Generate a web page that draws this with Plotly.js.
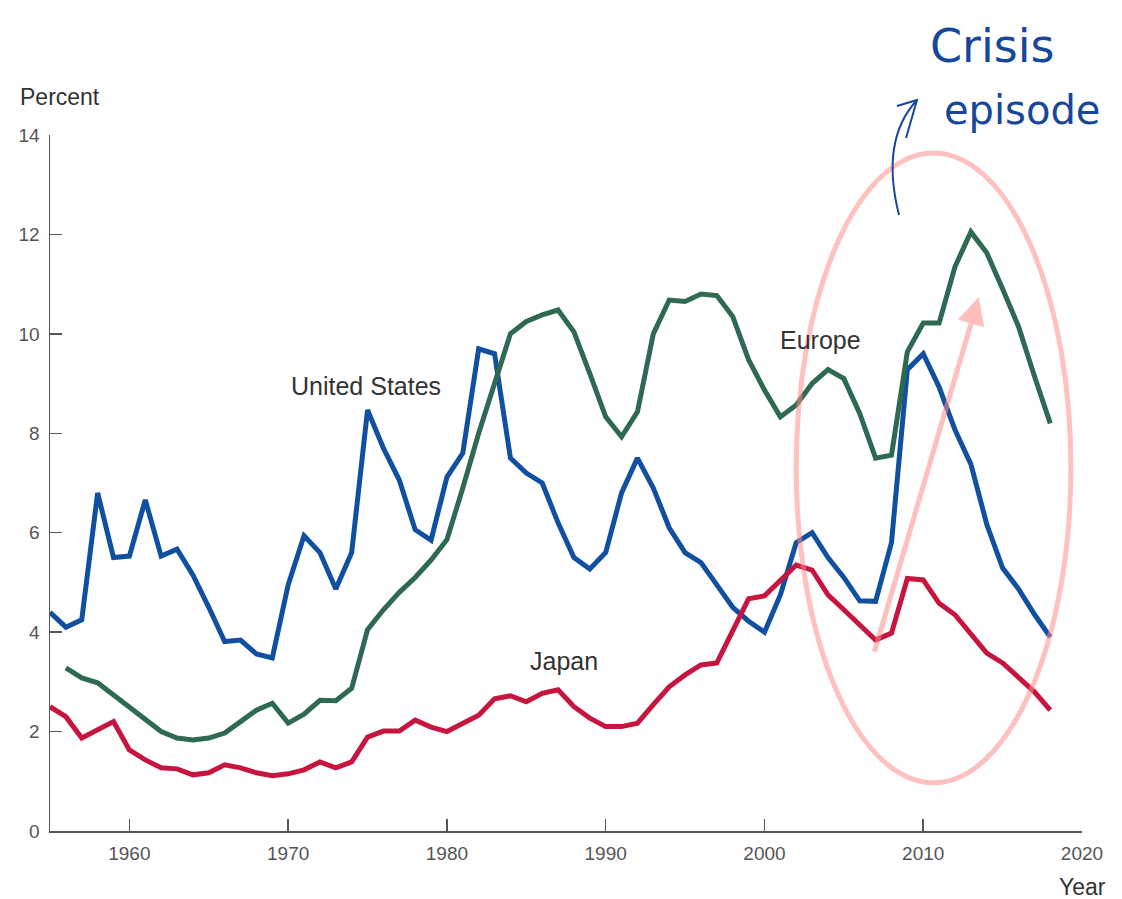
<!DOCTYPE html>
<html>
<head>
<meta charset="utf-8">
<script src="https://cdn.plot.ly/plotly-3.0.1.min.js"></script>
<style>html,body{margin:0;padding:0;background:#fff;}#chart{width:1122px;height:899px;}</style>
</head>
<body>
<div id="chart"></div>
<script>
// ---- data ----
const usStart = 1955;
const usValues = [4.4,4.1,4.25,6.8,5.5,5.53,6.66,5.53,5.67,5.15,4.5,3.81,3.84,3.56,3.48,
  4.95,5.94,5.6,4.87,5.6,8.47,7.7,7.06,6.06,5.85,7.12,7.6,9.7,9.6,7.5,7.2,7.0,6.2,5.5,5.27,
  5.6,6.8,7.5,6.9,6.1,5.6,5.4,4.95,4.5,4.22,4.0,4.75,5.8,6.0,5.5,5.1,4.63,4.62,5.8,9.28,
  9.6,8.93,8.07,7.38,6.17,5.29,4.87,4.36,3.9];
const euStart = 1956;
const euValues = [3.28,3.08,2.98,2.74,2.5,2.23,2.0,1.87,1.83,1.87,1.97,2.2,2.43,2.57,
  2.17,2.35,2.63,2.62,2.87,4.05,4.45,4.8,5.1,5.45,5.86,6.9,8.0,9.0,10.0,10.25,10.38,10.48,
  10.04,9.2,8.33,7.93,8.43,10.0,10.68,10.65,10.8,10.77,10.35,9.48,8.87,8.33,8.57,9.0,9.28,
  9.1,8.4,7.5,7.56,9.64,10.22,10.22,11.35,12.05,11.63,10.9,10.15,9.15,8.2];
const jpStart = 1955;
const jpValues = [2.5,2.3,1.87,2.03,2.2,1.63,1.43,1.27,1.25,1.13,1.17,1.33,1.27,1.17,1.11,
  1.15,1.23,1.39,1.27,1.39,1.89,2.01,2.01,2.23,2.09,2.0,2.17,2.33,2.66,2.72,2.6,2.77,2.84,
  2.5,2.27,2.1,2.1,2.17,2.54,2.9,3.14,3.34,3.38,4.0,4.67,4.73,5.03,5.35,5.25,4.75,4.45,4.15,
  3.84,3.98,5.08,5.05,4.58,4.35,3.98,3.58,3.38,3.1,2.8,2.43];
const seriesNames = ["United States","Europe","Japan"];
const xTickVals = [1960,1970,1980,1990,2000,2010,2020];
const yTickVals = [0,2,4,6,8,10,12,14];

function yearsFrom(start, n){ const a=[]; for(let i=0;i<n;i++) a.push(start+i); return a; }

const colors = {us:"#1150a1", eu:"#2d6a4f", jp:"#c8153f"};
const lw = 5;
const traces = [
  {x: yearsFrom(usStart, usValues.length), y: usValues, name: seriesNames[0], mode:"lines",
   line:{color:colors.us, width:lw}},
  {x: yearsFrom(euStart, euValues.length), y: euValues, name: seriesNames[1], mode:"lines",
   line:{color:colors.eu, width:lw}},
  {x: yearsFrom(jpStart, jpValues.length), y: jpValues, name: seriesNames[2], mode:"lines",
   line:{color:colors.jp, width:lw}}
];

const font = "Liberation Sans, Arial, Helvetica, sans-serif";
const pink = "rgba(255,140,140,0.55)";
const ink = "#17479b";

const layout = {
  width:1122, height:899,
  margin:{l:50, r:40, t:135, b:68},
  paper_bgcolor:"#fff", plot_bgcolor:"#fff",
  showlegend:false,
  font:{family:font, color:"#555", size:19},
  xaxis:{range:[1955,2020], tickvals:xTickVals, ticks:"inside", ticklen:12, tickwidth:1.5,
    tickcolor:"#555", showline:true, linecolor:"#555", linewidth:1.5, showgrid:false,
    zeroline:false, ticklabelstandoff:5, tickfont:{size:19, color:"#555"}},
  yaxis:{range:[0,14], tickvals:yTickVals, ticks:"inside", ticklen:12, tickwidth:1.5,
    tickcolor:"#555", showline:true, linecolor:"#555", linewidth:1.5, showgrid:false,
    zeroline:false, ticklabelstandoff:5, tickfont:{size:19, color:"#555"}},
  annotations:[
    {text:"Percent", xref:"paper", yref:"paper", x:-0.031, y:1.054, xanchor:"left", yanchor:"middle",
     showarrow:false, font:{size:23, color:"#333"}},
    {text:"Year", xref:"paper", yref:"paper", x:1.0252, y:-0.0805, xanchor:"right", yanchor:"middle",
     showarrow:false, font:{size:23, color:"#333"}},
    {text:seriesNames[0], x:1974.9, y:8.95, xref:"x", yref:"y", xanchor:"center", yanchor:"middle",
     showarrow:false, font:{size:25, color:"#333"}},
    {text:seriesNames[1], x:2003.55, y:9.88, xref:"x", yref:"y", xanchor:"center", yanchor:"middle",
     showarrow:false, font:{size:25, color:"#333"}},
    {text:seriesNames[2], x:1987.4, y:3.42, xref:"x", yref:"y", xanchor:"center", yanchor:"middle",
     showarrow:false, font:{size:25, color:"#333"}},
    // pink hand-drawn arrow
    {text:"", x:2013.5, y:10.74, ax:2006.9, ay:3.58, axref:"x", ayref:"y", xref:"x", yref:"y",
     showarrow:true, arrowhead:2, arrowsize:1.1, arrowwidth:5, arrowcolor:pink},
    // handwritten note
    {text:"Crisis", xref:"paper", yref:"paper", x:0.9128, y:1.128, xanchor:"center", yanchor:"middle",
     showarrow:false, font:{family:"DejaVu Sans, sans-serif", size:46, color:ink}},
    {text:"episode", xref:"paper", yref:"paper", x:0.942, y:1.036, xanchor:"center", yanchor:"middle",
     showarrow:false, font:{family:"DejaVu Sans, sans-serif", size:40, color:ink}}
  ],
  shapes:[
    {type:"circle", xref:"x", yref:"y", x0:2002.0, x1:2019.3, y0:0.97, y1:13.64,
     line:{color:pink, width:5}, layer:"above"},
    {type:"path", xref:"paper", yref:"paper",
     path:"M 0.8227 0.8851 Q 0.8043 0.9928 0.8401 1.0503",
     line:{color:ink, width:2}},
    {type:"path", xref:"paper", yref:"paper",
     path:"M 0.8207 1.0417 L 0.8401 1.0503 L 0.8295 0.9957",
     line:{color:ink, width:2}}
  ]
};

Plotly.newPlot("chart", traces, layout, {displayModeBar:false, staticPlot:true});
</script>
</body>
</html>
